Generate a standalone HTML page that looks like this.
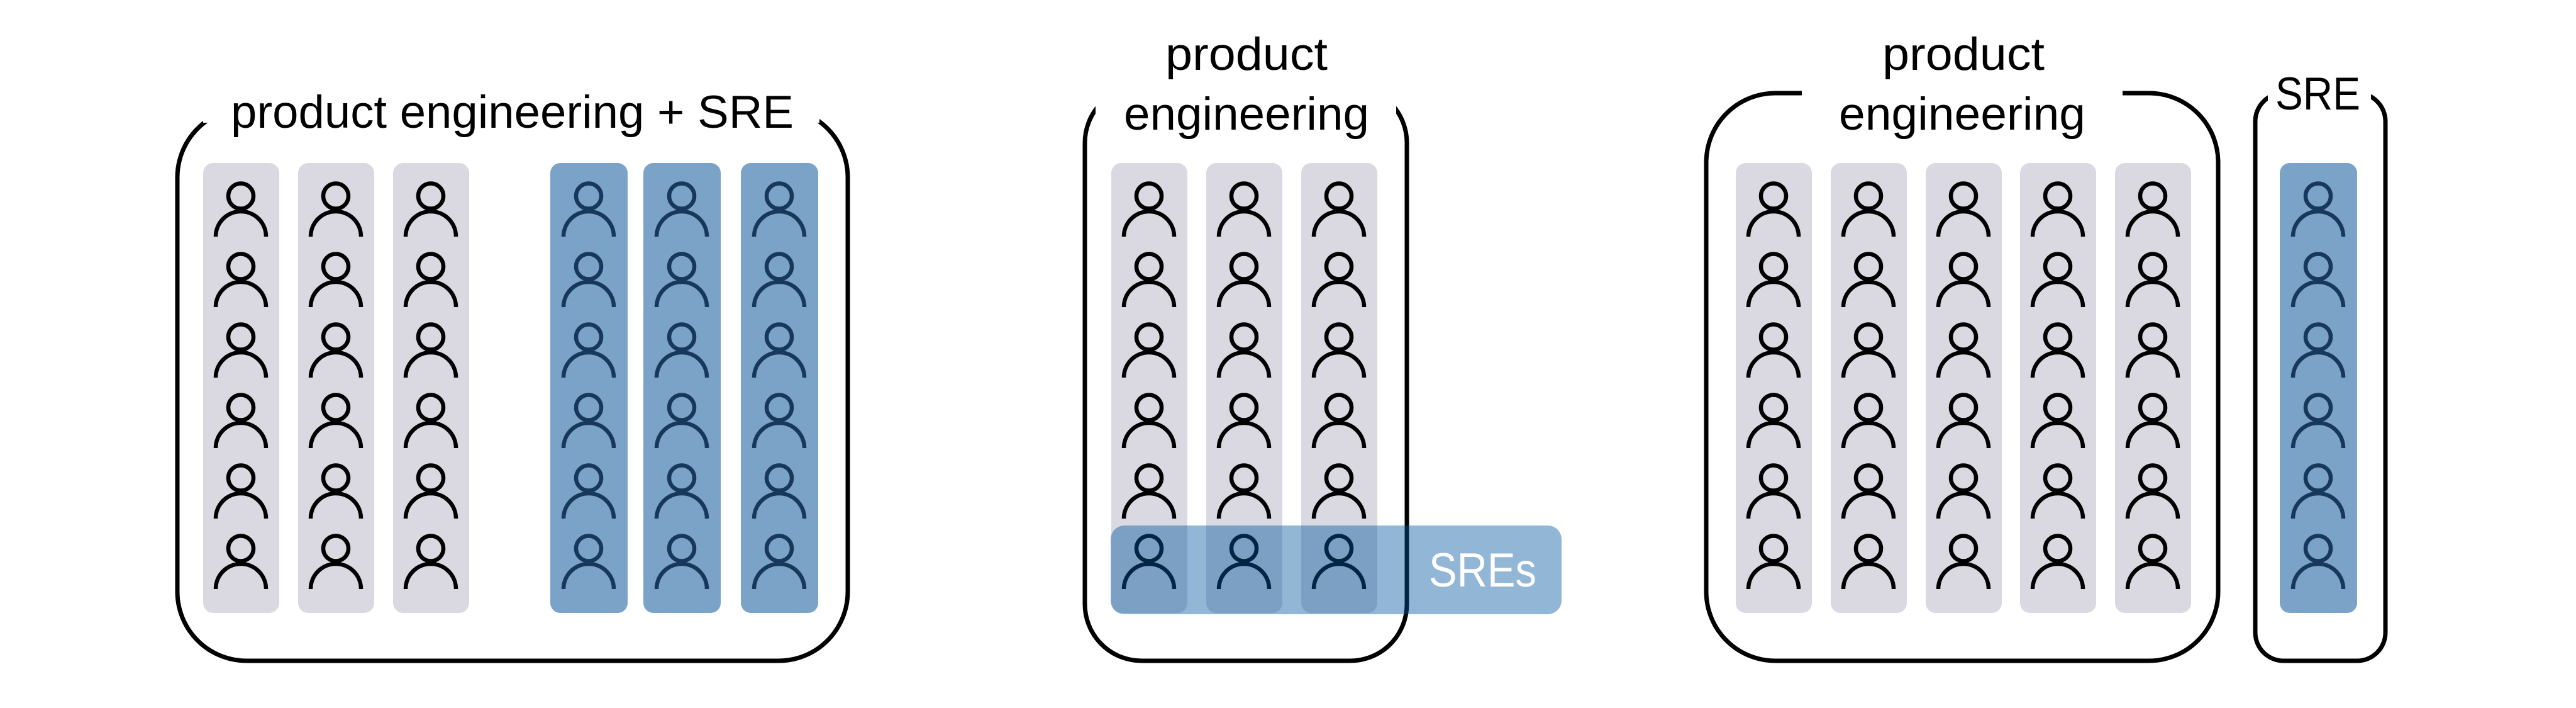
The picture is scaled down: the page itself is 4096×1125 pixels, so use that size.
<!DOCTYPE html>
<html><head><meta charset="utf-8"><style>
html,body{margin:0;padding:0;background:#fff;}
svg{display:block;}
text{font-family:"Liberation Sans",sans-serif;font-size:73px;fill:#000;}
</style></head><body>
<svg width="4096" height="1125" viewBox="0 0 4096 1125" xmlns="http://www.w3.org/2000/svg">
<defs>
<g id="pk"><circle cx="43" cy="22.5" r="20" fill="none" stroke="#000" stroke-width="6.5"/><path d="M3,87 A40,40 0 0 1 83,87" fill="none" stroke="#000" stroke-width="6.5"/></g>
<g id="pb"><circle cx="43" cy="22.5" r="20" fill="none" stroke="#17385a" stroke-width="6.5"/><path d="M3,87 A40,40 0 0 1 83,87" fill="none" stroke="#17385a" stroke-width="6.5"/></g>
<g id="colg"><rect x="0" y="0" width="121" height="715" rx="16" fill="#dad8e0"/>
<use href="#pk" x="17" y="30"/><use href="#pk" x="17" y="142"/><use href="#pk" x="17" y="254"/><use href="#pk" x="17" y="366"/><use href="#pk" x="17" y="478"/><use href="#pk" x="17" y="590"/></g>
<g id="colb"><rect x="0" y="0" width="123" height="715" rx="16" fill="#7aa3c7"/>
<use href="#pb" x="18" y="30"/><use href="#pb" x="18" y="142"/><use href="#pb" x="18" y="254"/><use href="#pb" x="18" y="366"/><use href="#pb" x="18" y="478"/><use href="#pb" x="18" y="590"/></g>
</defs>

<!-- Panel 1 -->
<rect x="282" y="172" width="1066" height="878" rx="110" fill="none" stroke="#000" stroke-width="7"/>
<rect x="323" y="140" width="980" height="55" fill="#fff"/>
<text x="367" y="203" textLength="895" lengthAdjust="spacingAndGlyphs">product engineering + SRE</text>
<use href="#colg" x="323" y="259"/>
<use href="#colg" x="474" y="259"/>
<use href="#colg" x="625" y="259"/>
<use href="#colb" x="875" y="259"/>
<use href="#colb" x="1023" y="259"/>
<use href="#colb" x="1178" y="259"/>

<!-- Panel 2 -->
<rect x="1725" y="137" width="512" height="913" rx="90" fill="none" stroke="#000" stroke-width="7"/>
<rect x="1742" y="100" width="478" height="81" fill="#fff"/>
<text x="1853" y="111" textLength="258" lengthAdjust="spacingAndGlyphs">product</text>
<text x="1787" y="206" textLength="390" lengthAdjust="spacingAndGlyphs">engineering</text>
<use href="#colg" x="1767" y="259"/>
<use href="#colg" x="1918" y="259"/>
<use href="#colg" x="2069" y="259"/>
<rect x="1766" y="835" width="717" height="141" rx="22" fill="rgb(0,85,160)" fill-opacity="0.43"/>
<text x="2272" y="932" textLength="171" lengthAdjust="spacingAndGlyphs" style="fill:#fff;font-size:76px">SREs</text>

<!-- Panel 3 -->
<rect x="2713" y="148" width="814" height="902" rx="110" fill="none" stroke="#000" stroke-width="7"/>
<rect x="2865" y="120" width="510" height="50" fill="#fff"/>
<text x="2993" y="111" textLength="258" lengthAdjust="spacingAndGlyphs">product</text>
<text x="2924" y="206" textLength="392" lengthAdjust="spacingAndGlyphs">engineering</text>
<use href="#colg" x="2760" y="259"/>
<use href="#colg" x="2911" y="259"/>
<use href="#colg" x="3062" y="259"/>
<use href="#colg" x="3212" y="259"/>
<use href="#colg" x="3363" y="259"/>

<rect x="3586" y="148" width="207" height="902" rx="45" fill="none" stroke="#000" stroke-width="7"/>
<rect x="3606" y="120" width="164" height="50" fill="#fff"/>
<text x="3618" y="174" textLength="135" lengthAdjust="spacingAndGlyphs">SRE</text>
<use href="#colb" x="3625" y="259"/>
</svg>
</body></html>
